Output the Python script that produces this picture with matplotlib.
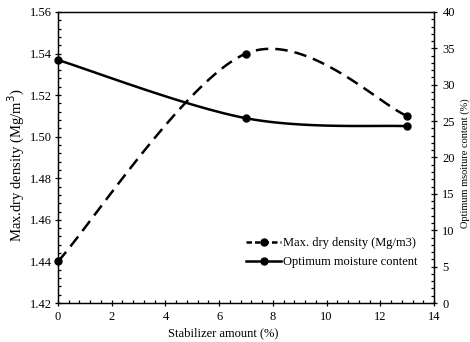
import matplotlib
matplotlib.use("Agg")
import matplotlib.pyplot as plt
from matplotlib.lines import Line2D
from matplotlib.ticker import MultipleLocator
import numpy as np

# Data
stabilizer = [0, 7, 13]
dry_density = [1.44, 1.54, 1.51]        # Mg/m3, left axis
moisture = [33.4, 25.4, 24.3]           # %, right axis

plt.rcParams.update(
    {
        "font.family": "Liberation Serif",
        "font.size": 9,
        "axes.linewidth": 0.9,
        "xtick.major.size": 5,
        "ytick.major.size": 5,
        "xtick.minor.size": 2.5,
        "ytick.minor.size": 2.5,
        "xtick.major.width": 0.9,
        "ytick.major.width": 0.9,
        "xtick.minor.width": 0.9,
        "ytick.minor.width": 0.9,
    }
)

LW = 1.8
MS = 5


def smooth(xs, ys, n=60):
    """Excel-style smoothed line: cubic Bezier through the points."""
    pts = np.column_stack([xs, ys]).astype(float)
    out = []
    for i in range(len(pts) - 1):
        p0 = pts[max(i - 1, 0)]
        p1 = pts[i]
        p2 = pts[i + 1]
        p3 = pts[min(i + 2, len(pts) - 1)]
        c1 = p1 + (p2 - p0) / 6
        c2 = p2 - (p3 - p1) / 6
        t = np.linspace(0, 1, n)[:, None]
        seg = (1 - t) ** 3 * p1 + 3 * (1 - t) ** 2 * t * c1 + 3 * (1 - t) * t ** 2 * c2 + t ** 3 * p2
        out.append(seg if i == 0 else seg[1:])
    seg = np.vstack(out)
    return seg[:, 0], seg[:, 1]


fig = plt.figure(figsize=(4.7, 3.42), dpi=100)
ax = fig.add_axes([0.1234, 0.114, 0.8, 0.851])
ax2 = ax.twinx()

# Dry density (dashed, left axis)
sx, sy = smooth(stabilizer, dry_density)
line, = ax.plot(sx, sy, color="black", lw=LW, clip_on=False)
line.set_dashes((5, 2.8))
ax.plot(stabilizer, dry_density, "o", color="black", ms=MS, clip_on=False, zorder=5)

# Moisture content (solid, right axis)
mx, my = smooth(stabilizer, moisture)
ax2.plot(mx, my, "-", color="black", lw=LW, clip_on=False)
ax2.plot(stabilizer, moisture, "o", color="black", ms=MS, clip_on=False, zorder=5)

ax.set_xlim(0, 14)
ax.set_ylim(1.42, 1.56)
ax2.set_ylim(0, 40)

ax.xaxis.set_major_locator(MultipleLocator(2))
ax.xaxis.set_minor_locator(MultipleLocator(0.4))
ax.yaxis.set_major_locator(MultipleLocator(0.02))
ax.yaxis.set_minor_locator(MultipleLocator(0.004))
ax.yaxis.set_major_formatter(plt.FormatStrFormatter("%.2f"))
ax2.yaxis.set_major_locator(MultipleLocator(5))
ax2.yaxis.set_minor_locator(MultipleLocator(1))

ax.tick_params(axis="both", which="major", direction="inout", labelsize=9)
ax.tick_params(axis="both", which="minor", direction="in")
ax.tick_params(axis="x", pad=3)
ax.tick_params(axis="y", pad=2)
ax2.tick_params(axis="y", which="major", direction="inout", labelsize=9)
ax2.tick_params(axis="y", which="minor", direction="in")

ax.set_xlabel("Stabilizer amount (%)", fontsize=9, labelpad=1)
ax.xaxis.set_label_coords(0.44, -0.085)
ax.set_ylabel("Max.dry density (Mg/m$^3$)", fontsize=10.5, va="center")
ax.yaxis.set_label_coords(-0.11, 0.474)
ax2.set_ylabel("Optimum msoiture content (%)", fontsize=7.5, rotation=90, va="center")
ax2.yaxis.set_label_coords(1.082, 0.48)

handles = [
    Line2D([], [], color="black", lw=LW, ls=(0, (2.2, 1.2)), marker="o", ms=MS),
    Line2D([], [], color="black", lw=LW, ls="-", marker="o", ms=MS),
]
ax2.legend(
    handles,
    ["Max. dry density (Mg/m3)", "Optimum moisture content"],
    loc="lower right",
    bbox_to_anchor=(0.985, 0.08),
    frameon=False,
    handlelength=2.8,
    handletextpad=0.1,
    labelspacing=0.6,
    fontsize=9,
)

fig.savefig("out.png", dpi=100)
